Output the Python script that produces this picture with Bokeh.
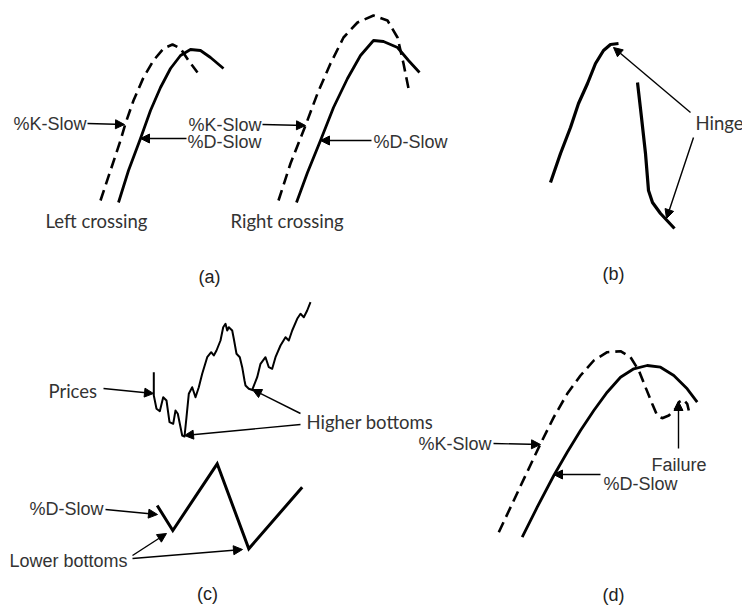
from bokeh.plotting import figure
from bokeh.models import Range1d, ColumnDataSource, Arrow, NormalHead
from bokeh.core.properties import value
from bokeh.embed import file_html
from bokeh.resources import INLINE

# ---------------- panel (a): left crossing ----------------
a1_k_x = [100, 110, 120, 125, 133, 143, 153, 163, 172, 180, 188, 197]
a1_k_y = [200, 170, 140, 123, 100, 77, 60, 48, 44, 48, 60, 72]
a1_d_x = [118, 128, 140, 150, 160, 170, 180, 190, 200, 210, 223]
a1_d_y = [202, 170, 138, 110, 87, 68, 55, 49, 50, 57, 68]
# ---------------- panel (a): right crossing ----------------
a2_k_x = [278, 290, 305, 317, 330, 343, 357, 373, 387, 397, 403, 408]
a2_k_y = [200, 163, 125, 93, 63, 37, 22, 15, 20, 37, 63, 88]
a2_d_x = [296, 307, 320, 333, 347, 360, 373, 383, 397, 408, 419]
a2_d_y = [202, 172, 140, 107, 78, 55, 40, 41, 47, 60, 72]
# ---------------- panel (b): hinges ----------------
b1_x = [550, 560, 570, 578, 587, 595, 603, 610, 618]
b1_y = [182, 153, 127, 103, 83, 63, 50, 44, 43]
b2_x = [637, 641, 645, 648, 652, 660, 674]
b2_y = [82, 117, 153, 190, 202, 213, 228]
# ---------------- panel (c): prices and %D-Slow ----------------
c_price1_x = [153.3, 153.3, 156, 159.3, 162.7, 166, 169, 172.7, 175, 177.3, 181.7, 184,
              186, 188.3, 191.7, 195, 198.3, 201.7, 206.7, 210.7, 213.3, 216, 220, 222.7,
              225, 226.7, 228.3, 231.7, 233.3, 236, 239.3, 241.7, 244, 245, 248.3, 253.3]
c_price1_y = [371.7, 395, 408.3, 410.7, 396.7, 400, 421.7, 423.3, 410, 413.3, 435, 436,
              416.7, 393.3, 386.7, 396.7, 386.7, 373.3, 356.7, 351.7, 355, 350, 340, 326.7,
              323.3, 330, 326.7, 330, 338.3, 353.3, 356.7, 366.7, 380, 385, 388.3, 390]
c_price2_x = [251.7, 256.7, 260, 265, 268.3, 271.7, 275, 280, 285, 288.3, 291.7, 296.7,
              300, 303.3, 306.7, 310]
c_price2_y = [389.3, 376.7, 363.3, 356.7, 366.7, 368.3, 356.7, 345, 336.7, 340, 330, 318.3,
              313.3, 316.7, 310, 301.7]
c_dslow_x = [156.7, 172.3, 216.7, 248.3, 301.7]
c_dslow_y = [505, 530, 463.3, 548.3, 486.7]
# ---------------- panel (d): failure ----------------
d_k_x = [498.3, 511.7, 525, 540, 553.3, 566.7, 580, 593.3, 606.7, 620, 630, 638.3, 645,
         651.7, 656.7, 661.7, 668.3, 675, 678.3, 682.7, 686.7, 688.3]
d_k_y = [531.7, 503.3, 475, 443.3, 416.7, 393.3, 375, 360, 351.7, 350.7, 356.7, 370, 386.7,
         403.3, 415, 417.7, 415, 408.3, 401.7, 399, 403.3, 410]
d_d_x = [521.7, 536.7, 553.3, 566.7, 580, 593.3, 606.7, 620, 633.3, 646.7, 660, 673.3,
         686.7, 696.7]
d_d_y = [536.7, 506.7, 475, 451.7, 430, 410, 391.7, 376.7, 368.3, 365, 366.7, 375, 388.3,
         401.7]

# ---------------- annotation arrows ----------------
arrow_x0 = [87, 262, 186, 371, 690, 693, 103, 300, 300, 105, 132, 132, 493, 600, 678]
arrow_y0 = [123, 124, 138, 140, 112, 137, 388, 413, 424, 509, 555, 558, 443, 474, 448]
arrow_x1 = [124, 305, 140, 320, 613, 666, 153, 252, 184, 157, 166, 242, 540, 553, 678]
arrow_y1 = [124, 125, 138, 140, 47, 218, 393, 389, 435, 514, 533, 549, 444, 474, 401]

# ---------------- texts ----------------
helv_right_text = ["%K-Slow", "%K-Slow", "%D-Slow", "%D-Slow", "%K-Slow"]
helv_right_x = [86, 261, 261, 103, 491]
helv_right_y = [123, 124, 141, 508, 443]
helv_left_text = ["%D-Slow", "%D-Slow", "Failure", "Lower bottoms"]
helv_left_x = [373, 603, 651, 9]
helv_left_y = [141, 483, 464, 560]
lato_text = ["Left crossing", "Right crossing", "Hinge", "Prices", "Higher bottoms"]
lato_x = [45, 230, 695, 48, 306]
lato_y = [220, 220, 122, 390, 421]
panel_text = ["(a)", "(b)", "(c)", "(d)"]
panel_x = [209, 613, 207, 613]
panel_y = [276, 273, 593, 594]

p = figure(width=742, height=606, x_range=Range1d(0, 742), y_range=Range1d(606, 0),
           output_backend="svg", toolbar_location=None, min_border=0,
           x_axis_location=None, y_axis_location=None)
p.xgrid.visible = False
p.ygrid.visible = False
p.outline_line_color = None
p.background_fill_color = "white"

dash = "11 6"
p.line(a1_k_x, a1_k_y, line_color="black", line_width=2.6, line_dash=dash)
p.line(a1_d_x, a1_d_y, line_color="black", line_width=2.8, line_join="round")
p.line(a2_k_x, a2_k_y, line_color="black", line_width=2.6, line_dash=dash)
p.line(a2_d_x, a2_d_y, line_color="black", line_width=2.8, line_join="round")
p.line(b1_x, b1_y, line_color="black", line_width=3.2, line_join="round")
p.line(b2_x, b2_y, line_color="black", line_width=3.2, line_join="round")
p.line(c_price1_x, c_price1_y, line_color="black", line_width=2.0, line_join="round")
p.line(c_price2_x, c_price2_y, line_color="black", line_width=2.0, line_join="round")
p.line(c_dslow_x, c_dslow_y, line_color="black", line_width=3.0, line_join="miter")
p.line(d_k_x, d_k_y, line_color="black", line_width=2.6, line_dash=dash)
p.line(d_d_x, d_d_y, line_color="black", line_width=2.8, line_join="round")

arrows = ColumnDataSource(dict(x0=arrow_x0, y0=arrow_y0, x1=arrow_x1, y1=arrow_y1))
p.add_layout(Arrow(source=arrows, x_start="x0", y_start="y0", x_end="x1", y_end="y1",
                   line_color="black", line_width=1.4,
                   end=NormalHead(size=9, fill_color="black", line_color="black", line_width=1)))

tc = "#333333"
p.text(helv_right_x, helv_right_y, text=helv_right_text, text_font=value("Liberation Sans"),
       text_font_size="18px", text_align="right", text_baseline="middle", text_color=tc)
p.text(helv_left_x, helv_left_y, text=helv_left_text, text_font=value("Liberation Sans"),
       text_font_size="18px", text_align="left", text_baseline="middle", text_color=tc)
p.text(lato_x, lato_y, text=lato_text, text_font=value("Lato"),
       text_font_size="18.5px", text_align="left", text_baseline="middle", text_color=tc)
p.text(panel_x, panel_y, text=panel_text, text_font=value("Liberation Sans"),
       text_font_size="18px", text_align="center", text_baseline="middle", text_color="#222222")

open("out.html", "w").write(file_html(p, INLINE))
